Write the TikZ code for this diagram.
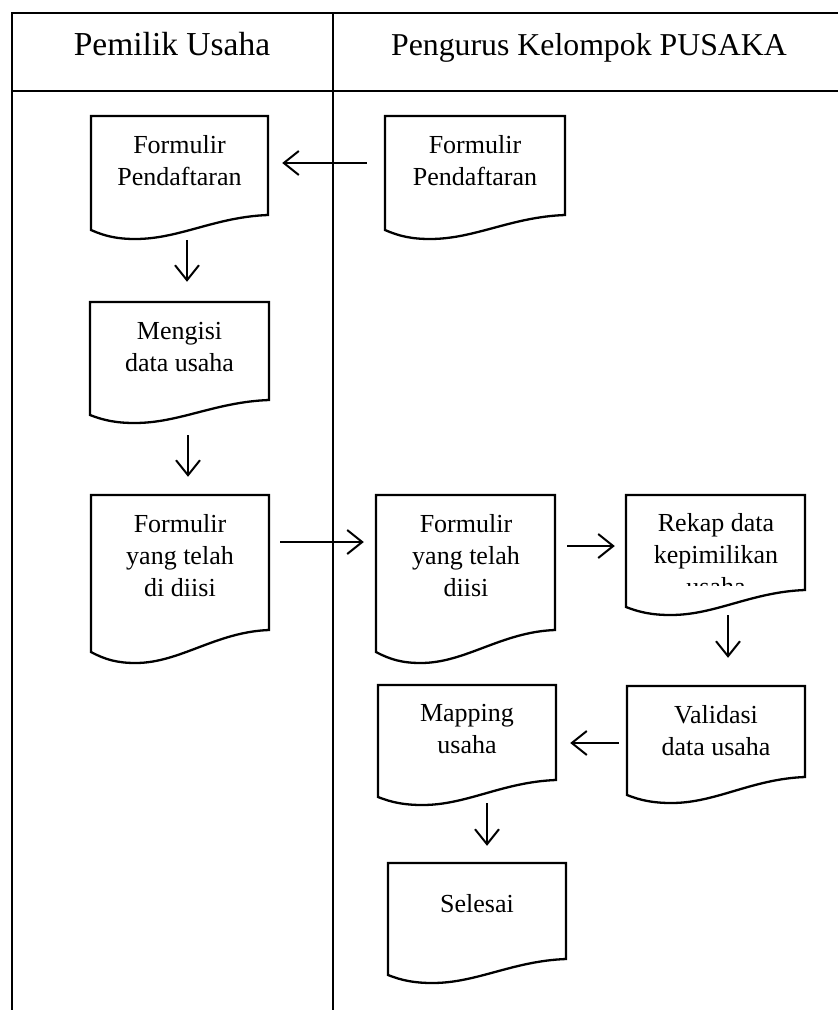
\documentclass[tikz,border=0pt]{standalone}
\usepackage{fontspec}
\setmainfont{Liberation Serif}
\usetikzlibrary{arrows.meta}
\tikzset{
  frameline/.style={line width=2.2pt, line cap=rect},
  docline/.style={line width=2.3pt, line join=miter},
  doctext/.style={inner sep=0pt, align=center, anchor=base, font=\fontsize{26}{32}\selectfont},
  headtext/.style={inner sep=0pt, anchor=base},
  flow/.style={line width=2pt, -{Straight Barb[length=15pt,width=24pt,line width=2pt]}},
}
\newcommand\docshape[7]{%
  \pgfmathsetmacro\dw{#3-#2}%
  \pgfmathsetmacro\dh{#5-#4}%
  \pgfmathsetmacro\xm{#2+0.25*\dw}%
  \pgfmathsetmacro\ca{\xm+0.25*\dw}%
  \pgfmathsetmacro\cb{#3-0.3*\dw}%
  \pgfmathsetmacro\cc{#2+0.08*\dw}%
  \pgfmathsetmacro\cd{\xm-0.1*\dw}%
  \pgfmathsetmacro\ce{#6+0.7*(#7-#6)}%
  \pgfmathsetmacro\cf{#5+2}%
  \node[inner sep=0pt, minimum width=\dw pt, minimum height=\dh pt] (#1) at ({(#2+#3)/2},{(#4+#5)/2}) {};
  \draw[docline] (#2,#6) -- (#2,#4) -- (#3,#4) -- (#3,#5)
     .. controls (\cb,\cf) and (\ca,#7) .. (\xm,#7)
     .. controls (\cd,#7) and (\cc,\ce) .. cycle;
}
\begin{document}
\begin{tikzpicture}[x=1pt,y=-1pt]
\path[use as bounding box] (0,0) rectangle (838,1010);
% frame
\draw[frameline] (12,1010) -- (12,13) -- (838,13);
\draw[frameline] (12,91) -- (838,91);
\draw[frameline] (333,13) -- (333,1010);
\node[headtext, font=\fontsize{33.5}{38}\selectfont] (h1) at (172,55) {Pemilik Usaha};
\node[headtext, font=\fontsize{31.8}{38}\selectfont] (h2) at (589,55) {Pengurus Kelompok PUSAKA};

% documents
\docshape{A}{91}{268}{116}{215}{230}{239}
\docshape{B}{385}{565}{116}{215}{230}{239}
\docshape{C}{90}{269}{302}{400}{415}{423}
\docshape{D}{91}{269}{495}{630}{652}{663}
\docshape{E}{376}{555}{495}{630}{652}{663}
\docshape{F}{626}{805}{495}{590}{607}{615}
\docshape{G}{627}{805}{686}{777}{795}{803}
\docshape{H}{378}{556}{685}{780}{797}{805}
\docshape{I}{388}{566}{863}{959}{975}{983}

% texts (anchor = baseline of the last line)
\node[doctext] (tA) at (179.5,185) {Formulir\\Pendaftaran};
\node[doctext] (tB) at (475,185) {Formulir\\Pendaftaran};
\node[doctext] (tC) at (179.5,371) {Mengisi\\data usaha};
\node[doctext] (tD) at (180,596) {Formulir\\yang telah\\di diisi};
\node[doctext] (tE) at (466,596) {Formulir\\yang telah\\diisi};
\begin{scope}
  \clip (626,495) rectangle (805,585.5);
  \node[doctext] (tF) at (716,595) {Rekap data\\kepimilikan\\usaha};
\end{scope}
\node[doctext] (tG) at (716,755) {Validasi\\data usaha};
\node[doctext] (tH) at (467,753) {Mapping\\usaha};
\node[doctext] (tI) at (477,912) {Selesai};

% connectors
\draw[flow, shorten <=18pt, shorten >=14pt] (B.west |- 0,163) -- (A.east |- 0,163);
\draw[flow, shorten <=25pt, shorten >=20pt] (A.south -| 187,0) -- (C.north -| 187,0);
\draw[flow, shorten <=35pt, shorten >=18pt] (C.south -| 188,0) -- (D.north -| 188,0);
\draw[flow, shorten <=11pt, shorten >=12pt] (D.east |- 0,542) -- (E.west |- 0,542);
\draw[flow, shorten <=12pt, shorten >=11pt] (E.east |- 0,546) -- (F.west |- 0,546);
\draw[flow, shorten <=25pt, shorten >=28pt] (F.south -| 728,0) -- (G.north -| 728,0);
\draw[flow, shorten <=8pt, shorten >=14pt] (G.west |- 0,743) -- (H.east |- 0,743);
\draw[flow, shorten <=23pt, shorten >=17pt] (H.south -| 487,0) -- (I.north -| 487,0);
\end{tikzpicture}
\end{document}
